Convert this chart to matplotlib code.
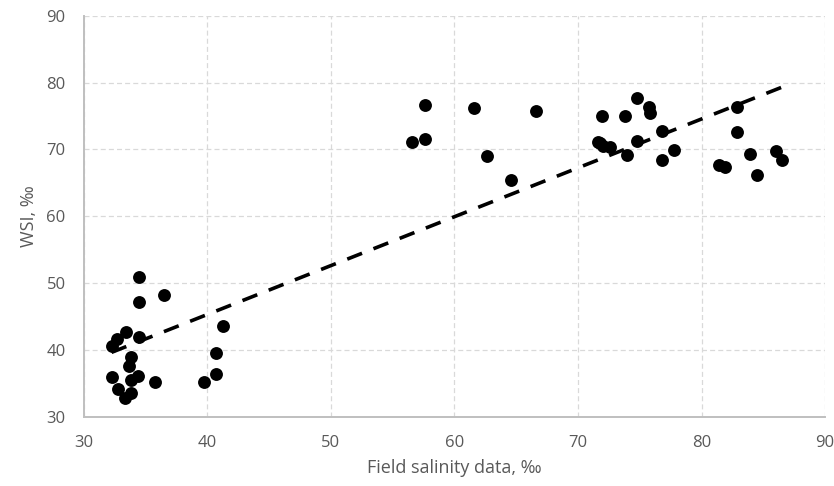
import matplotlib
matplotlib.use('Agg')
import matplotlib.pyplot as plt
import numpy as np

plt.rcParams['font.family'] = ['Open Sans', 'DejaVu Sans']

# field salinity (x) and WSI (y)
salinity = [34.5, 34.5, 36.5, 41.3, 33.4, 32.7, 32.25, 34.5, 33.8, 33.7,
            40.7, 32.3, 34.4, 33.8, 35.8, 39.7, 40.7, 32.8, 33.8, 33.3,
            57.6, 57.6, 56.6, 61.6, 66.6, 62.6, 64.6,
            74.8, 75.75, 75.8, 71.95, 73.8, 82.9, 82.9, 76.8, 74.8, 71.6,
            71.8, 72.0, 72.6, 74.0, 77.8, 76.8, 81.4, 81.9, 83.95, 86.0,
            86.5, 84.5]
wsi = [51.0, 47.2, 48.2, 43.6, 42.7, 41.7, 40.55, 42.0, 38.9, 37.6,
       39.55, 36.0, 36.2, 35.6, 35.2, 35.2, 36.5, 34.2, 33.6, 32.9,
       76.6, 71.6, 71.1, 76.2, 75.7, 69.0, 65.4,
       77.7, 76.4, 75.5, 75.0, 75.0, 76.4, 72.6, 72.7, 71.3, 71.1,
       71.0, 70.5, 70.3, 69.15, 69.9, 68.4, 67.7, 67.4, 69.25, 69.7,
       68.4, 66.2]

x_ticks = [30, 40, 50, 60, 70, 80, 90]
y_ticks = [30, 40, 50, 60, 70, 80, 90]

text_col = '#595959'
grid_col = '#d9d9d9'

fig = plt.figure(figsize=(8.34, 4.86), dpi=100)
ax = fig.add_axes([0.1004, 0.142, 0.889, 0.8257])

x = np.array(salinity)
y = np.array(wsi)
ax.scatter(x, y, s=86, color='black', zorder=3, linewidths=0)

# linear trendline over the data range
k, b = np.polyfit(x, y, 1)
xt = np.array([x.min(), x.max()])
ax.plot(xt, k * xt + b, color='black', linewidth=2.6, linestyle=(0, (4.4, 3.4)),
        zorder=4, solid_capstyle='butt')

ax.set_xlim(30, 90)
ax.set_ylim(30, 90)
ax.set_xticks(x_ticks)
ax.set_yticks(y_ticks)
ax.grid(True, color=grid_col, linestyle=(0, (4, 2.5)), linewidth=0.9)
ax.set_axisbelow(True)

for s in ['top', 'right']:
    ax.spines[s].set_visible(False)
for s in ['left', 'bottom']:
    ax.spines[s].set_color('#bfbfbf')
    ax.spines[s].set_linewidth(1.4)

ax.tick_params(length=0, labelsize=12, labelcolor=text_col)
ax.tick_params(axis='x', pad=13)
ax.tick_params(axis='y', pad=13)

ax.set_xlabel('Field salinity data, ‰', fontsize=13, color=text_col, labelpad=6)
ax.set_ylabel('WSI, ‰', fontsize=13, color=text_col, labelpad=6)

fig.savefig('out.png', dpi=100)
